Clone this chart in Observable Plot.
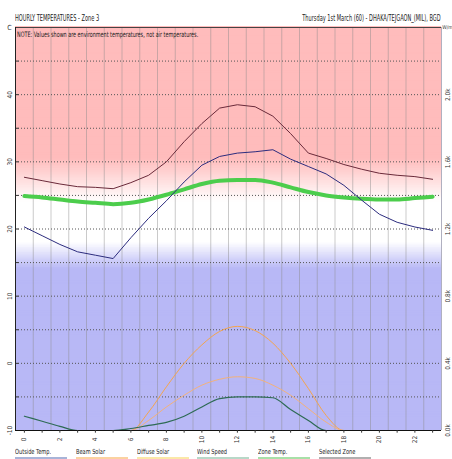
<!DOCTYPE html>
<html><head><meta charset="utf-8">
<script src="https://cdn.jsdelivr.net/npm/d3@7"></script>
<script src="https://cdn.jsdelivr.net/npm/@observablehq/plot@0.6"></script>
<style>
body{margin:0;background:#fff;}
#wrap{position:relative;width:452px;height:459px;overflow:hidden;font-family:"Liberation Sans Narrow","DejaVu Sans Condensed",sans-serif;}
#wrap svg{position:absolute;left:0;top:0;}
.t{position:absolute;white-space:nowrap;color:#222;transform-origin:0 0;line-height:1;}
.lg{position:absolute;top:449px;white-space:nowrap;color:#222;font-size:7px;line-height:1;}
.lg span{display:inline-block;transform:scaleX(0.8);transform-origin:0 0;}
.ul{position:absolute;top:457px;height:2px;width:52px;}
</style></head><body><div id="wrap"></div>
<script>
// ---- data ----
const hours = [0,1,2,3,4,5,6,7,8,9,10,11,12,13,14,15,16,17,18,19,20,21,22,23];
const outsideTemp = [20.3,19.0,17.7,16.6,16.1,15.6,18.7,21.6,24.2,27.0,29.5,30.8,31.3,31.5,31.8,30.4,29.3,28.2,26.5,24.3,22.2,21.0,20.3,19.8];
const zoneTemp = [27.7,27.2,26.7,26.3,26.2,26.0,26.9,28.0,30.0,33.0,35.7,38.0,38.5,38.2,36.8,34.2,31.3,30.5,29.6,28.9,28.3,28.0,27.8,27.4];
const selectedZone = [24.9,24.7,24.4,24.1,23.9,23.7,23.9,24.4,25.1,25.9,26.7,27.2,27.3,27.3,26.9,26.2,25.5,25.0,24.7,24.5,24.4,24.4,24.6,24.8];
const beamSolar = [0,0,0,0,0,0,0,110,260,400,510,590,620,595,520,400,250,90,0,0,0,0,0,0];
const diffuseSolar = [0,0,0,0,0,0,0,60,140,210,270,305,320,310,270,210,130,50,0,0,0,0,0,0];
const windSpeed = [85,55,25,0,0,0,12,30,48,85,140,190,200,200,195,125,60,0,0,0,0,0,0,0];
const xTickLabels = [0,2,4,6,8,10,12,14,16,18,20,22];
const leftTicks = [-10,0,10,20,30,40];
const rightTickLabels = ["0.0k","0.4k","0.8k","1.2k","1.6k","2.0k"];
const gridTemps = [-5,0,5,10,15,20,25,30,35,40,45];
const legendItems = ["Outside Temp.","Beam Solar","Diffuse Solar","Wind Speed","Zone Temp.","Selected Zone"];
const legendColors = ["#a8b4d8","#fbd2a0","#fbe8a8","#b8d8c8","#a8e0a8","#b0b0b0"];

// solar (W/m2) shares the temperature axis: 0 W -> -10 C, 400 W per 10 C
const wToC = w => w / 40 - 10;

const pink = "#ffbcbc", blue = "#b8b8f6", white = "#ffffff";
function bg(t) {
  if (t >= 30.5) return pink;
  if (t >= 24) return d3.interpolateRgb(white, pink)((t - 24) / 6.5);
  if (t >= 18) return white;
  if (t >= 14) return d3.interpolateRgb(blue, white)((t - 14) / 4);
  return blue;
}
const bands = d3.range(-10, 50, 0.25).map(t => ({t, c: bg(t + 0.125)}));

const rows = hours.map((h, i) => ({
  h, out: outsideTemp[i], zone: zoneTemp[i], sel: selectedZone[i],
  beam: wToC(beamSolar[i]), diff: wToC(diffuseSolar[i]), wind: wToC(windSpeed[i])
}));
const vgrid = hours.slice(0, -1).map(h => h + 0.5);
const x0 = hours[0] - 0.5, x1 = hours[hours.length - 1] + 0.5;

const chart = Plot.plot({
  width: 452, height: 459,
  marginTop: 27, marginBottom: 29, marginLeft: 15, marginRight: 11,
  x: {type: "linear", domain: [x0, x1], axis: null},
  y: {type: "linear", domain: [-10, 50], axis: null},
  color: {type: "identity"},
  style: {fontFamily: "'Liberation Sans Narrow','DejaVu Sans Condensed',sans-serif", background: "transparent"},
  marks: [
    Plot.rect(bands, {x1: x0, x2: x1, y1: d => d.t, y2: d => d.t + 0.4, fill: d => d.c}),
    Plot.ruleX(vgrid, {y1: -10, y2: 50, stroke: "#8a8a8a", strokeOpacity: 0.45}),
    Plot.ruleY(gridTemps, {x1: x0, x2: x1, stroke: "#555", strokeDasharray: "1,2"}),
    Plot.ruleY(gridTemps, {x1: x0, x2: x0 + 0.2, stroke: "#333"}),
    // frame
    Plot.ruleX([x1], {y1: -10, y2: 50, stroke: "#b0b0c0"}),
    Plot.ruleY([50], {x1: x0, x2: x1, stroke: "#444"}),
    Plot.ruleX([x0], {y1: -10, y2: 50, stroke: "#222"}),
    // lines
    Plot.line(rows, {x: "h", y: "beam", stroke: "#f4a54e", strokeWidth: 1, curve: "monotone-x"}),
    Plot.line(rows, {x: "h", y: "diff", stroke: "#f3b27a", strokeWidth: 1, curve: "monotone-x"}),
    Plot.line(rows, {x: "h", y: "wind", stroke: "#2e6b55", strokeWidth: 1.2, curve: "monotone-x"}),
    Plot.line(rows, {x: "h", y: "sel", stroke: "#4ccd4c", strokeWidth: 4, curve: "monotone-x"}),
    Plot.line(rows, {x: "h", y: "zone", stroke: "#6a2a3a", strokeWidth: 1}),
    Plot.line(rows, {x: "h", y: "out", stroke: "#2c2c7e", strokeWidth: 1}),
    Plot.ruleY([-10], {x1: x0, x2: x1, stroke: "#111"}),
    // x ticks
    Plot.ruleX(hours, {x: d => d, y1: -10, y2: -10.4, stroke: "#333"}),
    // tick labels (rotated)
    Plot.text(xTickLabels, {x: d => d, y: -10, text: d => String(d), rotate: -90, dy: 9, fontSize: 6.5, fill: "#333"}),
    Plot.text(leftTicks, {x: x0, y: d => d, text: d => String(d), rotate: -90, dx: -6, fontSize: 6.5, fill: "#333"}),
    Plot.text(leftTicks, {x: x1, y: d => d, text: (d, i) => rightTickLabels[i], rotate: -90, dx: 6, fontSize: 6.5, fill: "#333"}),
    Plot.text(["C"], {x: x0, y: 50, text: d => d, dx: -6, fontSize: 7, fill: "#333"}),
    Plot.text(["W/m"], {x: x1, y: 50, text: d => d, dx: 6, fontSize: 5, fill: "#333"})
  ]
});
const wrap = document.getElementById("wrap");
wrap.appendChild(chart);

function addText(txt, left, top, size, sx, right) {
  const d = document.createElement("div");
  d.className = "t";
  d.textContent = txt;
  d.style.fontSize = size + "px";
  d.style.top = top + "px";
  if (right !== undefined) {
    d.style.transformOrigin = "100% 0";
    d.style.right = right + "px";
  } else d.style.left = left + "px";
  d.style.transform = `scaleX(${sx})`;
  wrap.appendChild(d);
}
addText("HOURLY TEMPERATURES - Zone 3", 15, 15, 8, 0.7);
addText("Thursday 1st March (60) - DHAKA/TEJGAON_(MIL), BGD", 0, 15, 8, 0.7, 11);
addText("NOTE: Values shown are environment temperatures, not air temperatures.", 17, 31, 7.5, 0.72);

legendItems.forEach((name, i) => {
  const left = 15 + i * 60.8;
  const d = document.createElement("div");
  d.className = "lg";
  d.style.left = left + "px";
  d.innerHTML = `<span>${name}</span>`;
  wrap.appendChild(d);
  const u = document.createElement("div");
  u.className = "ul";
  u.style.left = left + "px";
  u.style.background = legendColors[i];
  wrap.appendChild(u);
});
</script>
</body></html>
